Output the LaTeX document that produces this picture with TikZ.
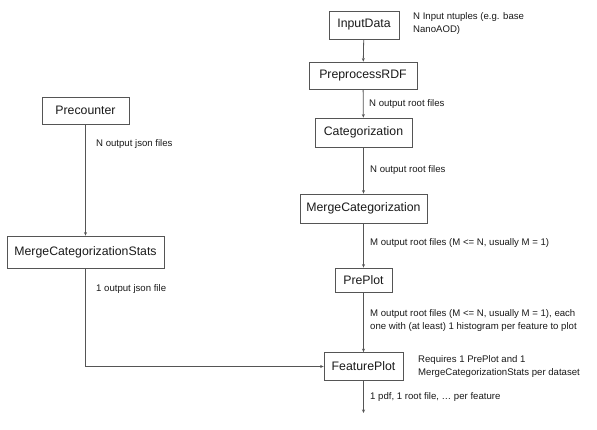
\documentclass[tikz,border=0pt]{standalone}
\usepackage{fontspec}
\setmainfont{Liberation Sans}
\usetikzlibrary{arrows.meta}
\definecolor{linecol}{HTML}{555555}
\definecolor{boxcol}{HTML}{555555}
\definecolor{txtcol}{HTML}{1A1A1A}
\begin{document}
\begin{tikzpicture}[x=1pt,y=-1pt,
  box/.style={draw=boxcol,line width=0.8pt,fill=white,text=txtcol,inner sep=0pt,
    font=\fontsize{12.3}{14}\selectfont},
  conn/.style={draw=linecol,line width=0.8pt,-{Stealth[length=3.5pt,width=3pt]}},
  note/.style={text=txtcol,font=\fontsize{9.6}{12.8}\selectfont,anchor=west,inner sep=0pt,align=left}]
\useasboundingbox[fill=white] (0,0) rectangle (597,429);
% boxes (pixel corners)
\node[box,minimum width=70pt,minimum height=28pt] (input) at (364,25) {InputData};
\node[box,minimum width=108pt,minimum height=27pt] (prep) at (363,75.5) {PreprocessRDF};
\node[box,minimum width=97pt,minimum height=29pt] (cat) at (363.5,132.5) {Categorization};
\node[box,minimum width=127pt,minimum height=29pt] (merge) at (363.5,208.5) {MergeCategorization};
\node[box,minimum width=57pt,minimum height=24pt] (preplot) at (363.5,280) {PrePlot};
\node[box,minimum width=79pt,minimum height=28pt] (feat) at (363.5,366.5) {FeaturePlot};
\node[box,minimum width=87pt,minimum height=27pt] (precount) at (85.5,110.5) {Precounter};
\node[box,minimum width=157pt,minimum height=32pt] (mcs) at (85.5,252) {MergeCategorizationStats};
\coordinate (end) at (363.5,413);
\coordinate (corner) at (85.5,366.5);
% connectors
\draw[conn] (input) -- (prep);
\draw[conn] (prep) -- (cat);
\draw[conn] (cat) -- (merge);
\draw[conn] (merge) -- (preplot);
\draw[conn] (preplot) -- (feat);
\draw[conn] (feat) -- (end);
\draw[conn] (precount) -- (mcs);
\draw[conn] (mcs.south) -- (corner) -- (feat.west);
% notes
\node[note] (n1) at (413,23.5) {N Input ntuples (e.g. base\\NanoAOD)};
\node[note] (n2) at (369,104) {N output root files};
\node[note] (n3) at (370,170) {N output root files};
\node[note] (n4) at (370,243) {M output root files (M <= N, usually M = 1)};
\node[note] (n5) at (370,320.5) {M output root files (M <= N, usually M = 1), each\\one with (at least) 1 histogram per feature to plot};
\node[note] (n6) at (418,366.5) {Requires 1 PrePlot and 1\\MergeCategorizationStats per dataset};
\node[note] (n7) at (370,397) {1 pdf, 1 root file, … per feature};
\node[note] (n8) at (96,144) {N output json files};
\node[note] (n9) at (96,289) {1 output json file};
\end{tikzpicture}
\end{document}
